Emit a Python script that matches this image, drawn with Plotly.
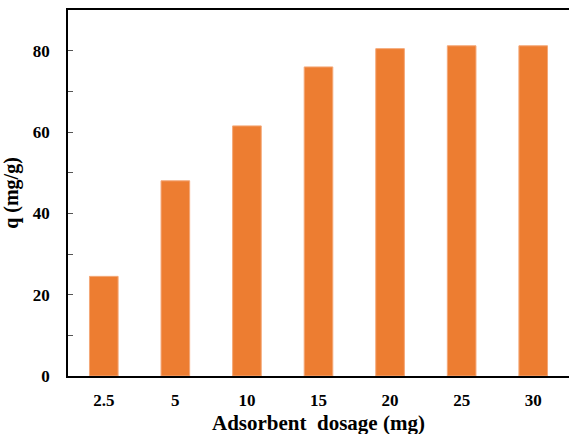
import plotly.graph_objects as go

categories = ["2.5", "5", "10", "15", "20", "25", "30"]
q_values = [24.5, 48.0, 61.5, 76.0, 80.5, 81.2, 81.2]

fig = go.Figure()
fig.add_trace(go.Bar(
    x=categories, y=q_values,
    width=0.4,
    marker=dict(color="#ED7D31", line=dict(color="#F4A878", width=1)),
))

font_family = "Liberation Serif, Times New Roman, serif"
fig.update_layout(
    width=569, height=434,
    margin=dict(l=68, r=0, t=10, b=58),
    paper_bgcolor="white", plot_bgcolor="white",
    showlegend=False,
    font=dict(family=font_family, color="black"),
    xaxis=dict(
        type="category", range=[-0.5, 6.5], automargin=False,
        showline=True, linecolor="black", linewidth=1.5, mirror=True,
        ticks="", showgrid=False,
        tickfont=dict(family=font_family, size=17, color="black", weight="bold"),
        ticklabelstandoff=8,
    ),
    yaxis=dict(
        range=[0, 90], tickvals=[0, 20, 40, 60, 80], automargin=False,
        showline=True, linecolor="black", linewidth=1.5,
        ticks="inside", ticklen=5, tickcolor="#555", tickwidth=1,
        minor=dict(tickvals=[10, 30, 50, 70], ticks="inside", ticklen=5, tickcolor="#555", tickwidth=1),
        showgrid=False, zeroline=False,
        tickfont=dict(family=font_family, size=17, color="black", weight="bold"),
        ticklabelstandoff=13,
        title=dict(text="<b>q (mg/g)</b>", font=dict(family=font_family, size=20, color="black"), standoff=12),
    ),
    annotations=[dict(
        text="<b>Adsorbent  dosage (mg)</b>", xref="paper", yref="paper",
        x=0.5, y=0, xanchor="center", yanchor="top", yshift=-33, showarrow=False,
        font=dict(family=font_family, size=21, color="black"),
    )],
)

fig.write_html("out.html")
